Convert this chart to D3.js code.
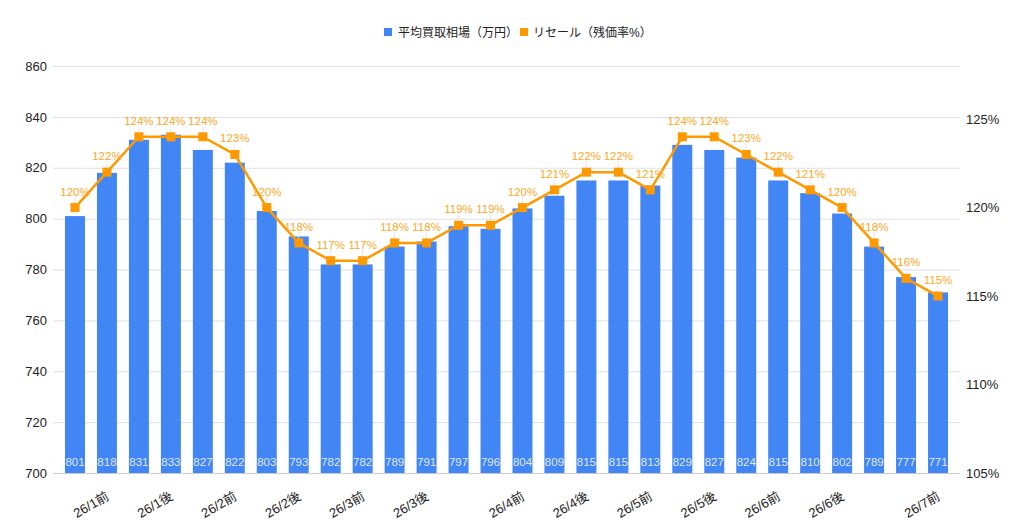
<!DOCTYPE html>
<html>
<head>
<meta charset="utf-8">
<script src="https://cdn.jsdelivr.net/npm/d3@7"></script>
<style>
  body { margin: 0; background: #fff; }
  text { font-family: "Liberation Sans", Arial, "Noto Sans CJK JP", sans-serif; }
</style>
</head>
<body>
<div id="chart"></div>
<script>
// data
var xLabels = ["", "26/1前", "", "26/1後", "", "26/2前", "", "26/2後", "", "26/3前", "", "26/3後", "", "",
               "26/4前", "", "26/4後", "", "26/5前", "", "26/5後", "", "26/6前", "", "26/6後", "", "", "26/7前"];
var priceValues = [801, 818, 831, 833, 827, 822, 803, 793, 782, 782, 789, 791, 797, 796,
                   804, 809, 815, 815, 813, 829, 827, 824, 815, 810, 802, 789, 777, 771];
var resaleValues = [120, 122, 124, 124, 124, 123, 120, 118, 117, 117, 118, 118, 119, 119,
                    120, 121, 122, 122, 121, 124, 124, 123, 122, 121, 120, 118, 116, 115];
var leftTicks = [700, 720, 740, 760, 780, 800, 820, 840, 860];
var rightTicks = [105, 110, 115, 120, 125];
var seriesNames = ["平均買取相場（万円）", "リセール（残価率%）"];

var width = 1024, height = 531;
var plot = {left: 53, right: 960, top: 66, bottom: 473};
var blue = "#4285f4", orange = "#ff9900";

var svg = d3.select("#chart").append("svg")
    .attr("width", width)
    .attr("height", height);

var x = d3.scaleBand()
    .domain(d3.range(priceValues.length))
    .range([plot.left, plot.right])
    .paddingInner(0.375)
    .paddingOuter(0.375);

var y = d3.scaleLinear()
    .domain([700, 860])
    .range([plot.bottom, plot.top]);

var y2 = d3.scaleLinear()
    .domain([105, 128])
    .range([plot.bottom, plot.top]);

// gridlines
svg.append("g")
    .selectAll("line")
    .data(leftTicks)
    .enter().append("line")
    .attr("x1", plot.left)
    .attr("x2", plot.right)
    .attr("y1", d => y(d) + 0.5)
    .attr("y2", d => y(d) + 0.5)
    .attr("stroke", d => d === 700 ? "#cccccc" : "#e0e0e0")
    .attr("stroke-width", 1);

// left axis
var leftAxis = svg.append("g")
    .attr("transform", "translate(" + (plot.left - 6) + ",0)")
    .call(d3.axisLeft(y).tickValues(leftTicks).tickSize(0).tickPadding(0));
leftAxis.select(".domain").remove();
leftAxis.selectAll("text")
    .attr("font-size", 13)
    .attr("fill", "#222")
    .attr("font-family", "Liberation Sans, Arial, sans-serif");

// right axis
var rightAxis = svg.append("g")
    .attr("transform", "translate(" + (plot.right + 6) + ",0)")
    .call(d3.axisRight(y2).tickValues(rightTicks).tickSize(0).tickPadding(0).tickFormat(d => d + "%"));
rightAxis.select(".domain").remove();
rightAxis.selectAll("text")
    .attr("font-size", 13)
    .attr("fill", "#222")
    .attr("font-family", "Liberation Sans, Arial, sans-serif");

// bars
svg.append("g")
    .selectAll("rect")
    .data(priceValues)
    .enter().append("rect")
    .attr("x", (d, i) => x(i))
    .attr("y", d => y(d))
    .attr("width", x.bandwidth())
    .attr("height", d => plot.bottom - y(d))
    .attr("fill", blue);

// bar value labels
svg.append("g")
    .selectAll("text")
    .data(priceValues)
    .enter().append("text")
    .attr("x", (d, i) => x(i) + x.bandwidth() / 2)
    .attr("y", plot.bottom - 7)
    .attr("text-anchor", "middle")
    .attr("font-size", 11.5)
    .attr("fill", "#dfe8fd")
    .text(d => d);

// x axis labels (slanted)
svg.append("g")
    .selectAll("text")
    .data(xLabels)
    .enter().append("text")
    .attr("transform", (d, i) => "translate(" + (x(i) + x.bandwidth() / 2 + 3) + "," + (plot.bottom + 26) + ") rotate(-30)")
    .attr("text-anchor", "end")
    .attr("font-size", 13)
    .attr("fill", "#222")
    .text(d => d);

// line
var line = d3.line()
    .x((d, i) => x(i) + x.bandwidth() / 2)
    .y(d => y2(d));

// annotation stems
svg.append("g")
    .selectAll("line")
    .data(resaleValues)
    .enter().append("line")
    .attr("x1", (d, i) => x(i) + x.bandwidth() / 2)
    .attr("x2", (d, i) => x(i) + x.bandwidth() / 2)
    .attr("y1", d => y2(d))
    .attr("y2", d => y2(d) - 11)
    .attr("stroke", "#e8e8e8")
    .attr("stroke-width", 1);

svg.append("path")
    .datum(resaleValues)
    .attr("fill", "none")
    .attr("stroke", orange)
    .attr("stroke-width", 2.5)
    .attr("stroke-linejoin", "round")
    .attr("d", line);

svg.append("g")
    .selectAll("rect")
    .data(resaleValues)
    .enter().append("rect")
    .attr("x", (d, i) => x(i) + x.bandwidth() / 2 - 4.5)
    .attr("y", d => y2(d) - 4.5)
    .attr("width", 9)
    .attr("height", 9)
    .attr("fill", orange);

svg.append("g")
    .selectAll("text")
    .data(resaleValues)
    .enter().append("text")
    .attr("x", (d, i) => x(i) + x.bandwidth() / 2)
    .attr("y", d => y2(d) - 12)
    .attr("text-anchor", "middle")
    .attr("font-size", 11.5)
    .attr("fill", "#ffa726")
    .text(d => d + "%");

// legend
var legend = svg.append("g").attr("transform", "translate(384,28)");
legend.append("rect").attr("x", 0).attr("y", 0).attr("width", 8).attr("height", 8).attr("fill", blue);
legend.append("text").attr("x", 14).attr("y", 9).attr("font-size", 12).attr("fill", "#222").text(seriesNames[0]);
legend.append("rect").attr("x", 136).attr("y", 0).attr("width", 8).attr("height", 8).attr("fill", orange);
legend.append("text").attr("x", 149).attr("y", 9).attr("font-size", 12).attr("fill", "#222").text(seriesNames[1]);
</script>
</body>
</html>
